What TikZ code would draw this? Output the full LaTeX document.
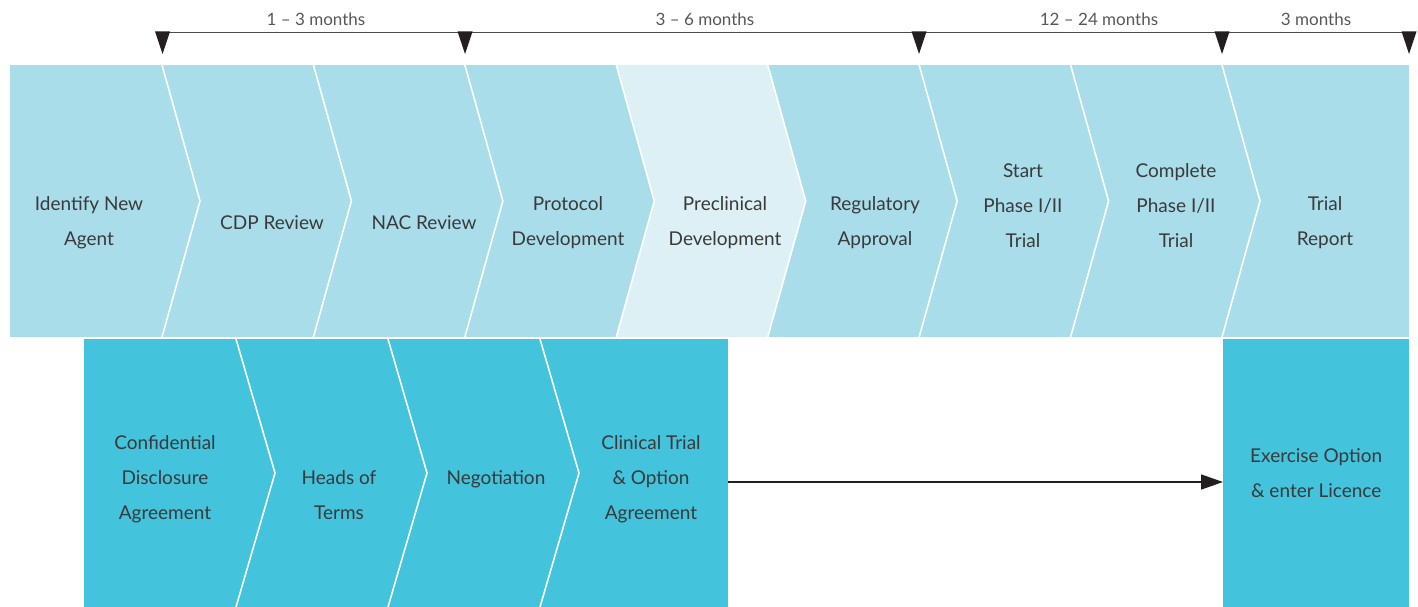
\documentclass[tikz,border=0pt]{standalone}
\usepackage{fontspec}
\setmainfont{Lato}
\usetikzlibrary{arrows.meta}
\definecolor{toprow}{HTML}{A9DDEA}
\definecolor{prerow}{HTML}{DCF0F5}
\definecolor{botrow}{HTML}{43C3DC}
\definecolor{txtcol}{HTML}{3A3A3A}
\definecolor{tickcol}{HTML}{231F20}
\tikzset{
  steptext/.style={text=txtcol, font=\fontsize{19}{35}\selectfont, align=center, inner sep=0pt},
  spantext/.style={text=txtcol!85, font=\fontsize{17}{20}\selectfont, inner sep=0pt},
  sepline/.style={draw=white, line width=1.6pt},
  timeline/.style={draw=tickcol!80, line width=1.6pt},
  flow/.style={draw=tickcol, line width=1.5pt, -{Triangle[length=22pt, width=15pt]}}
}
\begin{document}
\begin{tikzpicture}[x=1pt, y=-1pt]
  \useasboundingbox (0,0) rectangle (1418,607);

  % top row of steps
  \fill[toprow] (10,65) rectangle (1409,337);
  \fill[prerow] (616.3,65) -- (767.7,65) -- (805.7,201) -- (767.7,337) --
  (616.3,337) -- (654.3,201) -- cycle;
  \foreach \k in {0, ..., 7}
  \draw[sepline] (162+\k*151.43, 65) -- +(38, 136) -- +(0, 272);

  % bottom row of steps
  \fill[botrow] (84,339) rectangle (728,607);
  \foreach \k in {0, ..., 2}
  \draw[sepline] (236+\k*152, 339) -- +(39, 134) -- +(0, 268);
  \node[fill=botrow, minimum width=186pt, minimum height=268pt, anchor=north west,
  steptext, text depth=-6pt] (exercise) at (1223,339) {Exercise Option\\ \& enter Licence};

  % time spans
  \coordinate (t0) at (162,32.5);
  \coordinate (t1) at (1409,32.5);
  \draw[timeline] (t0) -- (t1);
  \foreach \x in {162.5, 465, 919, 1222, 1409}
  \fill[tickcol] (\x-7.5, 31.5) -- (\x+7.5, 31.5) -- (\x, 54) -- cycle;
  \node[spantext] (span1) at (316,19) {1 -- 3 months};
  \node[spantext] (span2) at (705,19) {3 -- 6 months};
  \node[spantext] (span3) at (1099,19) {12 -- 24 months};
  \node[spantext] (span4) at (1316,19) {3 months};

  % step labels
  \node[steptext] (identify) at (89,223) {Identify New\\Agent};
  \node[steptext] (cdp) at (272,223) {CDP Review};
  \node[steptext] (nac) at (424,223) {NAC Review};
  \node[steptext] (protocol) at (568,223) {Protocol\\Development};
  \node[steptext] (preclin) at (725,223) {Preclinical\\Development};
  \node[steptext] (regul) at (875,223) {Regulatory\\Approval};
  \node[steptext] (start) at (1023,206) {Start\\Phase I/II\\Trial};
  \node[steptext] (complete) at (1176,206) {Complete\\Phase I/II\\Trial};
  \node[steptext] (report) at (1325,223) {Trial\\Report};

  \node[steptext] (cda) at (165,479) {Confidential\\Disclosure\\Agreement};
  \node[steptext] (heads) at (339,495) {Heads of\\Terms};
  \node[steptext] (negot) at (496,479) {Negotiation};
  \node[steptext] (clinical) at (651,479) {Clinical Trial\\ \& Option\\Agreement};

  \coordinate (clinR) at (728,482);
  \draw[flow] (clinR) -- (clinR -| exercise.west);
\end{tikzpicture}
\end{document}
